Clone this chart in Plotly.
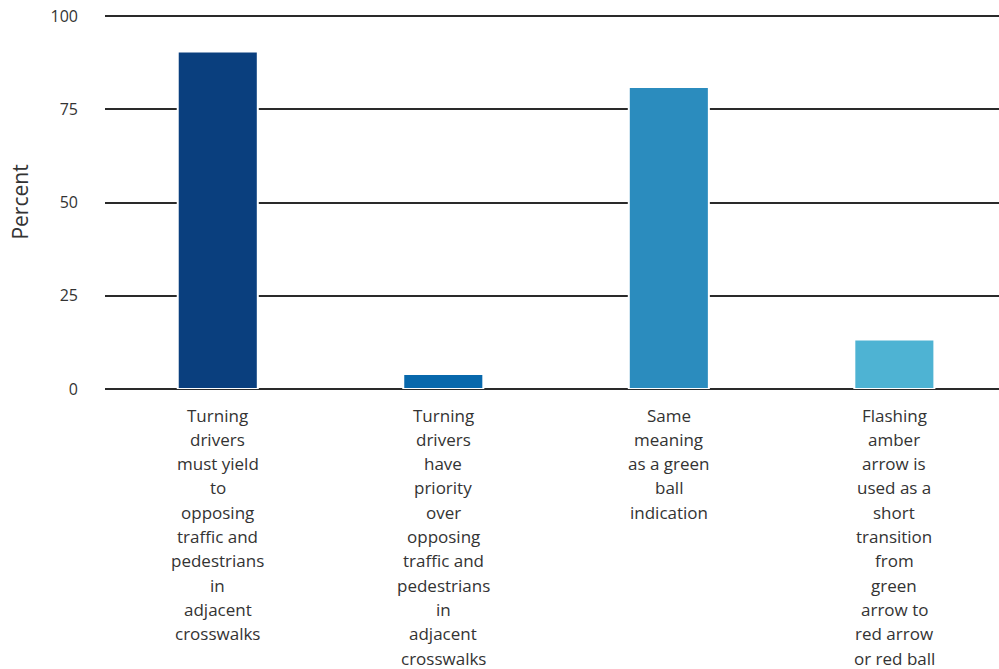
import plotly.graph_objects as go

categories = [
    "Turning<br>drivers<br>must yield<br>to<br>opposing<br>traffic and<br>pedestrians<br>in<br>adjacent<br>crosswalks",
    "Turning<br>drivers<br>have<br>priority<br>over<br>opposing<br>traffic and<br>pedestrians<br>in<br>adjacent<br>crosswalks",
    "Same<br>meaning<br>as a green<br>ball<br>indication",
    "Flashing<br>amber<br>arrow is<br>used as a<br>short<br>transition<br>from<br>green<br>arrow to<br>red arrow<br>or red ball",
]
values = [90.5, 4, 81, 13.3]
colors = ["#0a3f7e", "#0868ac", "#2b8cbe", "#4eb3d3"]
y_ticks = [0, 25, 50, 75, 100]

FONT = "Open Sans"
TEXT_COLOR = "#333333"

x_idx = list(range(len(categories)))

fig = go.Figure(
    go.Bar(
        x=x_idx,
        y=values,
        width=0.355,
        marker=dict(color=colors, line=dict(color="white", width=2)),
        hoverinfo="skip",
    )
)

annotations = []
for i, label in enumerate(categories):
    for j, line in enumerate(label.split("<br>")):
        annotations.append(
            dict(
                x=i, xref="x", y=0, yref="y",
                text=line, showarrow=False,
                xanchor="center", yanchor="middle",
                yshift=-26 - 24.3 * j,
                font=dict(family=FONT, size=17, color=TEXT_COLOR),
            )
        )

fig.update_layout(
    width=999,
    height=669,
    margin=dict(l=105, r=0, t=15, b=280),
    paper_bgcolor="white",
    plot_bgcolor="white",
    showlegend=False,
    annotations=annotations,
    xaxis=dict(
        range=[-0.5, 3.464],
        showticklabels=False,
        showgrid=False,
        zeroline=False,
        showline=False,
        ticks="",
    ),
    yaxis=dict(
        range=[0, 100.3],
        tickvals=y_ticks,
        showgrid=True,
        gridcolor="#2a2a2a",
        gridwidth=2,
        zeroline=True,
        zerolinecolor="#2a2a2a",
        zerolinewidth=2,
        showline=False,
        ticks="",
        ticklabelstandoff=26,
        tickfont=dict(family=FONT, size=16, color=TEXT_COLOR),
        title=dict(text="Percent", font=dict(family=FONT, size=21, color=TEXT_COLOR), standoff=16),
    ),
)

fig.write_html("out.html")
